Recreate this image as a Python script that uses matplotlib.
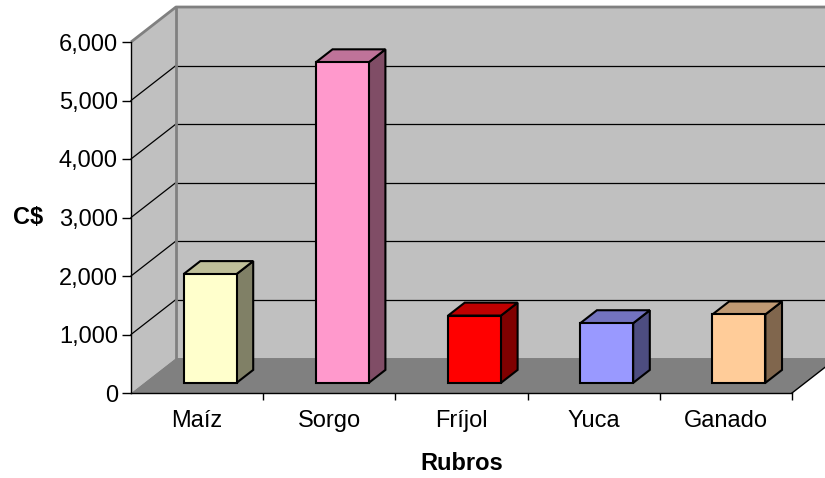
import numpy as np
import matplotlib
matplotlib.use("Agg")
import matplotlib.pyplot as plt
from matplotlib.patches import Polygon

plt.rcParams['font.family'] = ['Liberation Sans', 'DejaVu Sans']

# data
rubros = ['Maíz', 'Sorgo', 'Fríjol', 'Yuca', 'Ganado']
valores = [1860, 5480, 1150, 1020, 1170]
front_colors = ['#FFFFCC', '#FF99CC', '#FF0000', '#9999FF', '#FFCC99']
ymax = 6000
yticks = np.arange(0, 7000, 1000)

# 3d look: wall depth in (category, value) units, bar depth span
ddx, ddy = 0.34, 598
f0, f1 = 0.29, 0.66
bar_w = 0.40


def shade(c, k):
    r, g, b = matplotlib.colors.to_rgb(c)
    return (r * k, g * k, b * k)


fig = plt.figure(figsize=(8.25, 4.78), dpi=100)
ax = fig.add_axes([131 / 825, 85 / 478, 661 / 825, 351 / 478])
ax.set_facecolor('none')
ax.set_xlim(-0.5, len(rubros) - 0.5)
ax.set_ylim(0, ymax)

x0w, x1w = -0.5, len(rubros) - 0.5

# walls and floor
ax.add_patch(Polygon([(x0w + ddx, ddy), (x1w + ddx + 1, ddy), (x1w + ddx + 1, ymax + ddy),
                      (x0w + ddx, ymax + ddy)], closed=True, fc='#C0C0C0', ec='none',
                     clip_on=False, zorder=1))
ax.add_patch(Polygon([(x0w, 0), (x0w + ddx, ddy), (x0w + ddx, ymax + ddy), (x0w, ymax)],
                     closed=True, fc='#C0C0C0', ec='none', clip_on=False, zorder=1))
ax.add_patch(Polygon([(x0w, 0), (x1w, 0), (x1w + ddx, ddy), (x0w + ddx, ddy)],
                     closed=True, fc='#808080', ec='none', clip_on=False, zorder=2))

# gridlines on walls
for v in yticks[1:-1]:
    ax.plot([x0w, x0w + ddx], [v, v + ddy], color='black', lw=0.9, clip_on=False, zorder=2)
    ax.plot([x0w + ddx, x1w + ddx + 1], [v + ddy, v + ddy], color='black', lw=0.9,
            clip_on=False, zorder=2)

# wall borders
ax.plot([x0w, x0w + ddx, x1w + ddx + 1], [ymax, ymax + ddy, ymax + ddy], color='#808080',
        lw=2, clip_on=False, zorder=2, solid_capstyle='butt')
ax.plot([x0w + ddx, x0w + ddx], [ddy, ymax + ddy], color='#808080', lw=2,
        clip_on=False, zorder=2)
ax.plot([x1w, x1w + ddx], [0, ddy], color='black', lw=1, clip_on=False, zorder=3)

# bars
sdx, sdy = (f1 - f0) * ddx, (f1 - f0) * ddy
for i, (v, c) in enumerate(zip(valores, front_colors)):
    bx0 = i - bar_w / 2 + f0 * ddx
    bx1 = bx0 + bar_w
    by0 = f0 * ddy
    by1 = by0 + v
    kw = dict(closed=True, ec='black', lw=1.5, clip_on=False, zorder=4, joinstyle='miter')
    ax.add_patch(Polygon([(bx1, by0), (bx1 + sdx, by0 + sdy), (bx1 + sdx, by1 + sdy), (bx1, by1)],
                         fc=shade(c, 0.5), **kw))
    ax.add_patch(Polygon([(bx0, by1), (bx1, by1), (bx1 + sdx, by1 + sdy), (bx0 + sdx, by1 + sdy)],
                         fc=shade(c, 0.75), **kw))
    ax.add_patch(Polygon([(bx0, by0), (bx1, by0), (bx1, by1), (bx0, by1)], fc=c, **kw))

# axes
for s in ['top', 'right']:
    ax.spines[s].set_visible(False)
ax.spines['left'].set_linewidth(1)
ax.spines['bottom'].set_linewidth(1)
ax.spines['left'].set_zorder(3)
ax.spines['bottom'].set_zorder(3)

ax.set_yticks(yticks)
ax.set_yticklabels([f'{v:,}' for v in yticks])
ax.tick_params(axis='y', direction='out', length=6.5, width=1, pad=3, labelsize=17)

ax.set_xticks(np.arange(len(rubros)) + 0.5)
ax.set_xticklabels([])
ax.set_xticks(np.arange(len(rubros)), minor=True)
ax.set_xticklabels(rubros, minor=True)
ax.tick_params(axis='x', which='major', direction='out', length=5, width=1)
ax.tick_params(axis='x', which='minor', length=0, pad=12, labelsize=17)

ax.set_ylabel('C$', rotation=0, fontsize=17, fontweight='bold', ha='center', va='center')
ax.yaxis.set_label_coords(-0.156, 0.5)
ax.set_xlabel('Rubros', fontsize=17, fontweight='bold', ha='center', va='center')
ax.xaxis.set_label_coords(0.5, -0.2)

fig.savefig('out.png', dpi=100)
